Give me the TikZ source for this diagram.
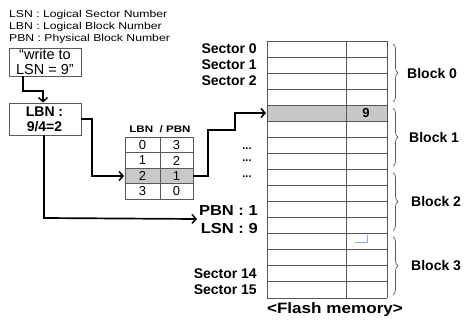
\documentclass[tikz,border=0pt]{standalone}
\usepackage{fontspec}
\setmainfont{Liberation Sans}
\newfontfamily\wideA[FakeStretch=1.22]{Liberation Sans}
\newfontfamily\wideB[FakeStretch=1.14]{Liberation Sans}
\usetikzlibrary{arrows.meta,decorations.pathreplacing}
\definecolor{cellgray}{RGB}{200,200,200}
\definecolor{gridline}{RGB}{85,85,85}
\definecolor{marklb}{RGB}{140,170,220}
\newcommand{\fs}[1]{\fontsize{#1}{#1}\selectfont}
\begin{document}
\begin{tikzpicture}[x=1pt,y=-1pt,
  arr/.style={line width=1.7pt,-{Straight Barb[length=4pt,width=9pt,line width=1.5pt]}},
  gridl/.style={gridline,line width=0.9pt},
  tabl/.style={gray!70!black,line width=0.8pt},
  box/.style={draw=gray!70!black,line width=0.9pt,minimum width=72pt,inner sep=0pt},
  seclab/.style={anchor=east,font=\fs{14}\bfseries,inner sep=0pt},
  blklab/.style={anchor=west,font=\fs{14}\bfseries,inner sep=0pt},
  brc/.style={decorate,decoration={brace,amplitude=5pt},gray!70!black,line width=0.7pt},
  leg/.style={anchor=west,font=\wideA\fs{10},inner sep=0pt},
  dig/.style={font=\fs{13},inner sep=0pt}]
\useasboundingbox (0,0) rectangle (464,322);
% legend
\node[leg] (l1) at (9,15) {LSN : Logical Sector Number};
\node[leg] (l2) at (9,27) {LBN : Logical Block Number};
\node[leg] (l3) at (9,39) {PBN : Physical Block Number};
% write box
\node[font=\fs{14.5},inner sep=0pt] (w1) at (45,54) {“write to};
\node[font=\fs{14.5},inner sep=0pt] (w2) at (45,70) {LSN = 9”};
\node[box,minimum height=28pt] (wbox) at (45,62) {};
% LBN box
\node[box,minimum height=32pt] (lbn) at (45,119) {};
\node[font=\fs{14}\bfseries,inner sep=0pt] (lbn1) at (44.5,111.5) {LBN :};
\node[font=\fs{14}\bfseries,inner sep=0pt] (lbn2) at (44.5,127) {9/4=2};
% table
\fill[cellgray] (125,168) rectangle (193,183.5);
\draw[tabl] (125,137) rectangle (193,199);
\foreach \y in {152.5,168,183.5} \draw[tabl] (125,\y) -- (193,\y);
\draw[tabl] (160,137) -- (160,199);
\node[font=\wideA\fs{9.5}\bfseries,inner sep=0pt] (thead) at (160,129) {LBN\ \ / PBN};
\foreach \i/\a/\b in {0/0/3,1/1/2,2/2/1,3/3/0}{
  \node[dig] (ta\i) at (142.5,145+15.5*\i) {\a};
  \node[dig] (tb\i) at (176.5,145+15.5*\i) {\b};
}
\coordinate (t2w) at (124,176);
\coordinate (t2e) at (193,176);
% flash grid
\fill[cellgray] (267,105.25) rectangle (387,121.31);
\foreach \i in {0,...,16} \draw[gridl] (267,41+16.0625*\i) -- (387,41+16.0625*\i);
\draw[gridl] (267,41) -- (267,298);
\draw[gridl] (346.5,41) -- (346.5,298);
\draw[gridl] (387,41) -- (387,298);
\node[font=\fs{13}\bfseries,inner sep=0pt] (nine) at (366,113) {9};
\coordinate (g4w) at (266,113);
\draw[marklb,line width=0.8pt] (355,242) -- (367,242) -- (367,235);
% sector labels
\node[seclab] (s0) at (257,49) {Sector 0};
\node[seclab] (s1) at (257,65) {Sector 1};
\node[seclab] (s2) at (257,81) {Sector 2};
\node[seclab] (s14) at (257,274) {Sector 14};
\node[seclab] (s15) at (257,290) {Sector 15};
\node[anchor=east,font=\wideB\fs{14.5}\bfseries,inner sep=0pt] (pbn) at (258,211) {PBN : 1};
\node[anchor=east,font=\wideB\fs{14.5}\bfseries,inner sep=0pt] (lsn) at (258,229) {LSN : 9};
\coordinate (pbnarr) at (197,219);
\foreach \y/\n in {149/d1,161/d2,177/d3} \node[font=\fs{11}\bfseries,inner sep=0pt] (\n) at (247,\y) {...};
% braces and block labels
\foreach \k/\dx in {0/407,1/409,2/411,3/411}{
  \draw[brc] (393,44+64.25*\k) -- (393,102+64.25*\k);
  \node[blklab] (b\k) at (\dx,73+64.25*\k) {Block \k};
}
\node[font=\wideB\fs{15}\bfseries,inner sep=0pt] (fm) at (335,310) {<Flash memory>};
% arrows
\draw[arr] (wbox.south -| 23,0) -- (23,91) -- (43,91) -- (lbn.north -| 43,0);
\draw[arr] (lbn.east |- 0,119) -- (92,119) -- (92,176) -- (t2w);
\draw[arr] (lbn.south -| 44,0) -- (44,218) -- (pbnarr);
\draw[arr] (t2e) -- (208,176) -- (208,130) -- (235,130) -- (235,113) -- (g4w);
\end{tikzpicture}
\end{document}
